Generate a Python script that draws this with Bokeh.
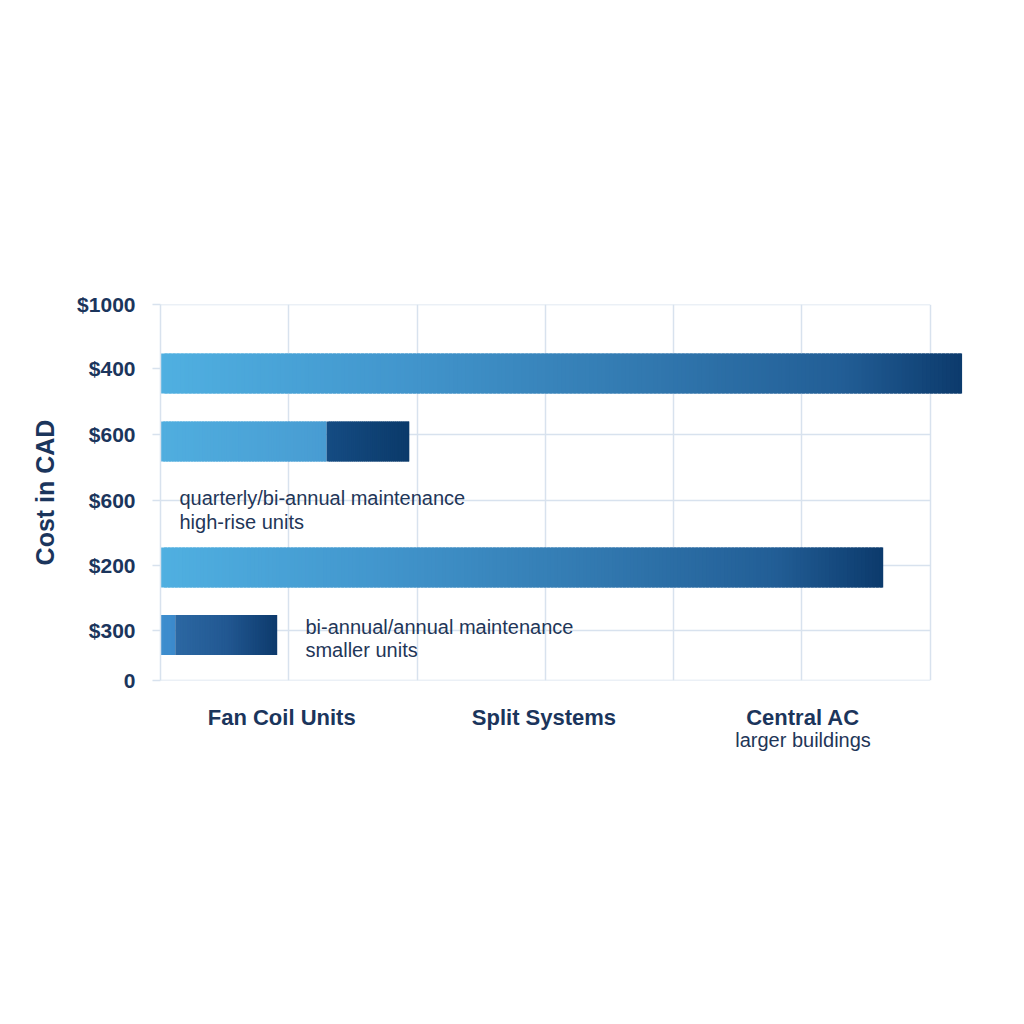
import numpy as np
from bokeh.plotting import figure
from bokeh.models import Range1d, FixedTicker, LinearAxis, ColumnDataSource
from bokeh.core.properties import value
from bokeh.embed import file_html
from bokeh.resources import INLINE

# ---------------- data ----------------
y_tick_labels = ["0", "$300", "$200", "$600", "$600", "$400", "$1000"]
x_categories = ["Fan Coil Units", "Split Systems", "Central AC"]
x_category_note = ["", "", "larger buildings"]
y_axis_title = "Cost in CAD"

# bars, top to bottom: total length and where a lighter first part ends (None = single part)
bar_totals = [1250, 388, 1127, 182]
bar_splits = [None, 259, None, 23]

note_texts = ["quarterly/bi-annual maintenance", "high-rise units",
              "bi-annual/annual maintenance", "smaller units"]

# ---------------- layout (positions / styles) ----------------
y_tick_pos = [0, 50, 115, 180, 246, 312, 376]
x_grid_pos = [0, 200, 400, 600, 800, 1000, 1200]
x_tick_pos = [189, 598, 1002]
bar_pos = [307, 239, 113, 45.5]
bar_height = 40
note_x = [29.6, 29.6, 226, 226]
note_y = [183, 159, 54, 31]

NAVY = "#1B355C"
GRID = "#D8E2EE"
FONT = "Liberation Sans"

full_stops = ([0.0, 0.3, 0.6, 0.85, 1.0],
              [(80, 176, 225), (66, 150, 205), (50, 121, 176), (34, 94, 150), (12, 58, 108)])
light_stops = ([0.0, 1.0], [(80, 174, 223), (72, 156, 210)])
dark_stops_2 = ([0.0, 1.0], [(21, 76, 131), (11, 58, 106)])
light_stops_4 = ([0.0, 1.0], [(62, 142, 206), (60, 138, 204)])
dark_stops_4 = ([0.0, 0.5, 1.0], [(44, 104, 163), (34, 88, 146), (13, 58, 108)])


def shade(x0, x1, stops, n=80):
    pos, cols = stops
    cols = np.array(cols, dtype=float)
    edges = np.linspace(x0, x1, n + 1)
    w = (x1 - x0) / n
    mids = (np.arange(n) + 0.5) / n
    out = []
    for m in mids:
        r = np.interp(m, pos, cols[:, 0])
        g = np.interp(m, pos, cols[:, 1])
        b = np.interp(m, pos, cols[:, 2])
        out.append("#%02x%02x%02x" % (int(round(r)), int(round(g)), int(round(b))))
    rights = list(edges[1:] + w * 0.8)
    rights[-1] = x1
    return list(edges[:-1]), rights, out


p = figure(width=1000, height=1000,
           x_range=Range1d(0, 1260), y_range=Range1d(0, 376),
           output_backend="svg", toolbar_location=None,
           min_border_left=160, min_border_right=32,
           min_border_top=304, min_border_bottom=320,
           background_fill_color="white", border_fill_color="white",
           outline_line_color=None)

# grid
p.ygrid.visible = False
p.xgrid.ticker = FixedTicker(ticks=x_grid_pos)
p.xgrid.grid_line_color = GRID
p.xgrid.grid_line_width = 1.5
p.segment(x0=[x_grid_pos[0]] * len(y_tick_pos), x1=[x_grid_pos[-1]] * len(y_tick_pos),
          y0=y_tick_pos, y1=y_tick_pos, line_color=GRID, line_width=1.5)

# bars
lefts, rights, colors, ys = [], [], [], []
for i, (tot, spl) in enumerate(zip(bar_totals, bar_splits)):
    if spl is None:
        segs = [shade(0, tot, full_stops, 200)]
    else:
        if i == 1:
            segs = [shade(0, spl, light_stops, 60), shade(spl, tot, dark_stops_2, 40)]
        else:
            segs = [shade(0, spl, light_stops_4, 4), shade(spl, tot, dark_stops_4, 60)]
    for l, r, c in segs:
        lefts += l
        rights += r
        colors += c
        ys += [bar_pos[i]] * len(l)

src = ColumnDataSource(dict(y=ys, left=lefts, right=rights, color=colors))
p.hbar(y="y", left="left", right="right", height=bar_height, source=src,
       fill_color="color", line_color=None)

# notes
nsrc = ColumnDataSource(dict(x=note_x, y=note_y, t=note_texts))
p.text(x="x", y="y", text="t", source=nsrc, text_font=value(FONT),
       text_font_size="20px", text_color="#1F3658", text_baseline="middle",
       text_align="left")

# y axis
p.yaxis.ticker = FixedTicker(ticks=y_tick_pos)
p.yaxis.major_label_overrides = {pos: lab for pos, lab in zip(y_tick_pos, y_tick_labels)}
p.yaxis.major_label_text_font = FONT
p.yaxis.major_label_text_font_size = "21px"
p.yaxis.major_label_text_font_style = "bold"
p.yaxis.major_label_text_color = NAVY
p.yaxis.major_label_standoff = 17
p.yaxis.major_tick_out = 8
p.yaxis.major_tick_in = 0
p.yaxis.major_tick_line_color = GRID
p.yaxis.major_tick_line_width = 1.5
p.yaxis.minor_tick_line_color = None
p.yaxis.axis_line_color = GRID
p.yaxis.axis_line_width = 1.5
p.yaxis.axis_label = y_axis_title
p.yaxis.axis_label_text_font = FONT
p.yaxis.axis_label_text_font_size = "25px"
p.yaxis.axis_label_text_font_style = "bold"
p.yaxis.axis_label_text_color = NAVY
p.yaxis.axis_label_standoff = 15

# x axis (category names)
p.xaxis.ticker = FixedTicker(ticks=x_tick_pos)
p.xaxis.major_label_overrides = {pos: lab for pos, lab in zip(x_tick_pos, x_categories)}
p.xaxis.major_label_text_font = FONT
p.xaxis.major_label_text_font_size = "22px"
p.xaxis.major_label_text_font_style = "bold"
p.xaxis.major_label_text_color = NAVY
p.xaxis.major_label_standoff = 18
p.xaxis.major_tick_line_color = None
p.xaxis.minor_tick_line_color = None
p.xaxis.axis_line_color = None

# second x axis for the sub-note line
note_axis = LinearAxis(ticker=FixedTicker(ticks=x_tick_pos),
                       major_label_overrides={pos: lab for pos, lab in zip(x_tick_pos, x_category_note)},
                       major_label_text_font=FONT, major_label_text_font_size="20px",
                       major_label_text_color="#1F3658", major_label_standoff=-10,
                       major_tick_line_color=None, minor_tick_line_color=None,
                       axis_line_color=None)
p.add_layout(note_axis, "below")

open("out.html", "w").write(file_html(p, INLINE))
